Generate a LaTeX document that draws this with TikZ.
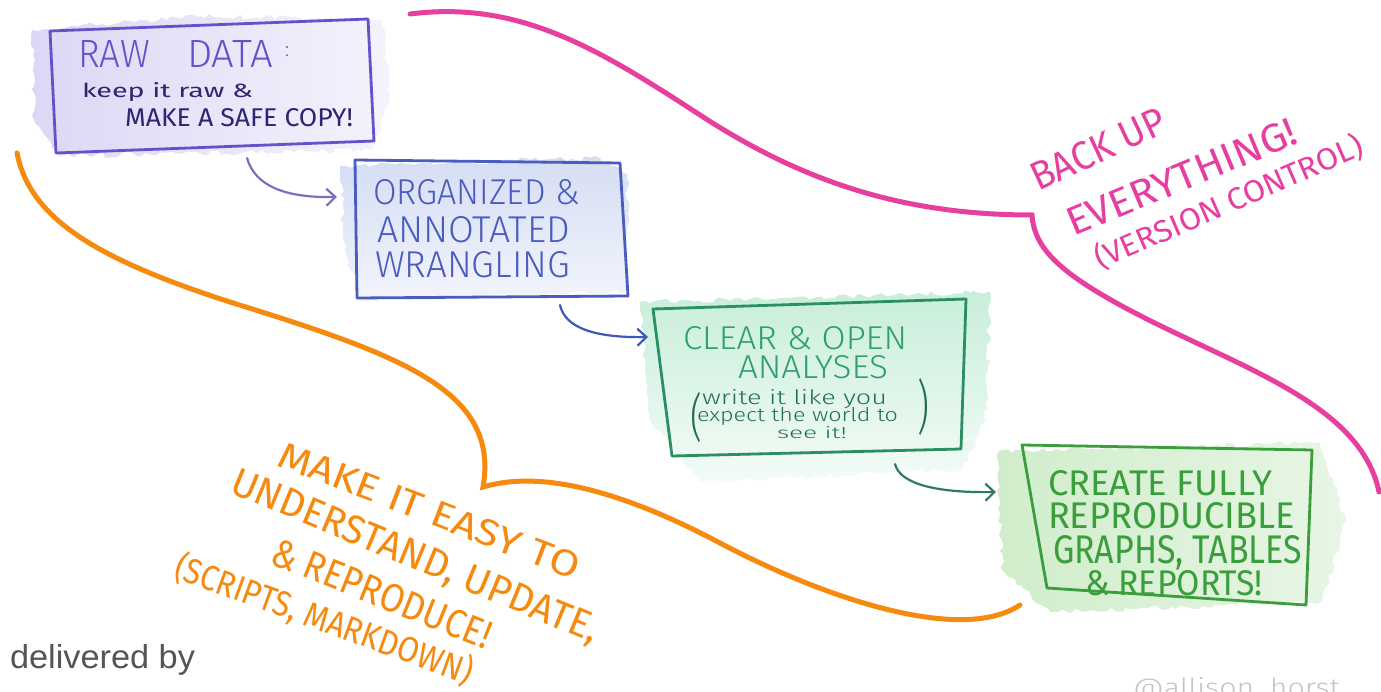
\documentclass[tikz,border=0pt]{standalone}
\usepackage{fontspec}
\usepackage{graphicx}
\usetikzlibrary{arrows.meta,decorations.pathmorphing}
\setmainfont{Liberation Sans}
\newfontfamily\hand{Fira Sans Light}
\newfontfamily\handr{Fira Sans}
\newcommand{\fitt}[3]{\resizebox{#1pt}{#2pt}{#3}}
\definecolor{rawc}{HTML}{6254C8}
\definecolor{navyc}{HTML}{2D2670}
\definecolor{orgc}{HTML}{4A5DBF}
\definecolor{arrA}{HTML}{7C6FC2}
\definecolor{arrB}{HTML}{3F57B8}
\definecolor{clrc}{HTML}{2FA06C}
\definecolor{arrC}{HTML}{2F7A66}
\definecolor{crec}{HTML}{3A9E3C}
\definecolor{pinkc}{HTML}{E63FA0}
\definecolor{orangec}{HTML}{F68A0F}
\definecolor{grayc}{HTML}{555555}
\definecolor{sigc}{HTML}{C4C4C4}
\definecolor{washA}{HTML}{DCD7F5}
\definecolor{washB}{HTML}{D5DDF4}
\definecolor{washC}{HTML}{C8EEDA}
\definecolor{washD}{HTML}{D0EDCB}
\tikzset{
  txt/.style={inner sep=0pt, outer sep=0pt, anchor=base west},
  boxline/.style={line width=2.8pt, line join=round},
  wash/.style={decorate, decoration={random steps, segment length=5pt, amplitude=2.5pt}},
  flow/.style={line width=2.2pt, line cap=round, -{Straight Barb[length=9pt,width=17pt,line width=2.2pt]}},
  brace/.style={line width=5pt, line cap=round, line join=miter}
}
\begin{document}
\begin{tikzpicture}[x=1pt,y=-1pt]
\useasboundingbox (0,0) rectangle (1381,692);
\clip (0,0) rectangle (1381,692);
\fill[white] (0,0) rectangle (1381,692);

% washes
\shade[wash, left color=washA, right color=white!70!washA] (32,30) -- (200,16) -- (382,20) -- (390,100) -- (372,150) -- (60,156) -- (34,120) -- cycle;
\shade[wash, top color=washB, bottom color=white!70!washB] (340,166) -- (600,158) -- (628,175) -- (626,292) -- (360,300) -- (345,250) -- cycle;
\shade[wash, top color=washC, bottom color=white!80!washC] (640,302) -- (990,292) -- (986,420) -- (962,470) -- (700,482) -- (650,420) -- cycle;
\shade[wash, left color=washD, right color=white!50!washD] (998,452) -- (1320,442) -- (1346,520) -- (1322,602) -- (1050,612) -- (1002,570) -- cycle;

% boxes
\draw[boxline, rawc] (50,31) -- (368,19) -- (374,141) -- (56,153) -- cycle;
\draw[boxline, orgc] (355,160) -- (620,163) -- (628,296) -- (357,298) -- cycle;
\draw[boxline, clrc!90!black] (653,309) -- (966,299) -- (961,449) -- (672,456) -- cycle;
\draw[boxline, crec] (1022,445) -- (1312,450) -- (1306,605) -- (1047,588) -- cycle;

% box texts
\node[txt, text=rawc] (rawA) at (78,68) {\hand\fitt{72}{27}{RAW}};
\node[txt, text=rawc] (rawB) at (187,68) {\hand\fitt{86}{27}{DATA}};
\node[txt, text=rawc] (rawC) at (285,57) {\hand\fitt{4}{10}{:}};
\node[txt, text=navyc] (rawD) at (82,98) {\handr\fitt{171}{15}{keep it raw \&}};
\node[txt, text=navyc] (rawE) at (125,127) {\handr\fitt{228}{18}{MAKE A SAFE COPY!}};

\node[txt, text=orgc] (orgA) at (373,205) {\hand\fitt{207}{25}{ORGANIZED \&}};
\node[txt, text=orgc] (orgB) at (377,243) {\hand\fitt{193}{26}{ANNOTATED}};
\node[txt, text=orgc] (orgC) at (375,278) {\hand\fitt{195}{26}{WRANGLING}};

\node[txt, text=clrc] (clrA) at (683,350) {\hand\fitt{224}{23}{CLEAR \& OPEN}};
\node[txt, text=clrc] (clrB) at (738,378) {\hand\fitt{150}{23}{ANALYSES}};
\node[txt, text=clrc!70!black] (clrC) at (702,404) {\hand\fitt{185}{15}{write it like you}};
\node[txt, text=clrc!70!black] (clrD) at (697,421) {\hand\fitt{201}{14}{expect the world to}};
\node[txt, text=clrc!70!black] (clrE) at (777,438) {\hand\fitt{70}{12}{see it!}};
\node[inner sep=0pt, anchor=north west, text=clrc!70!black] (clrL) at (690,392) {\hand\resizebox*{12pt}{50pt}{(}};
\node[inner sep=0pt, anchor=north west, text=clrc!70!black] (clrR) at (917,378) {\hand\resizebox*{12pt}{57pt}{)}};

\node[txt, text=crec] (creA) at (1048,495) {\handr\fitt{224}{25}{CREATE FULLY}};
\node[txt, text=crec] (creB) at (1048,528) {\handr\fitt{247}{26}{REPRODUCIBLE}};
\node[txt, text=crec] (creC) at (1053,563) {\handr\fitt{249}{28}{GRAPHS, TABLES}};
\node[txt, text=crec] (creD) at (1085,595) {\handr\fitt{178}{25}{\& REPORTS!}};

% flow arrows
\coordinate (a1s) at (247,158); \coordinate (a1e) at (337,197);
\coordinate (a2s) at (560,305); \coordinate (a2e) at (648,337);
\coordinate (a3s) at (895,464); \coordinate (a3e) at (996,492);
\draw[flow, arrA] (a1s) .. controls (255,186) and (285,198) .. (a1e);
\draw[flow, arrB] (a2s) .. controls (565,328) and (595,338) .. (a2e);
\draw[flow, arrC] (a3s) .. controls (900,485) and (940,493) .. (a3e);

% pink brace
\coordinate (pS) at (410,14);
\coordinate (pM) at (700,115);
\coordinate (pC) at (1032,215);
\coordinate (pN) at (1120,305);
\coordinate (pE) at (1379,492);
\draw[brace, pinkc] (pS) .. controls (520,0) and (600,50) .. (pM) .. controls (800,180) and (900,215) .. (pC)
  .. controls (1034,248) and (1060,272) .. (pN) .. controls (1230,365) and (1360,400) .. (pE);

% orange brace
\coordinate (oS) at (17,153);
\coordinate (oM) at (230,302);
\coordinate (oC) at (483,487);
\coordinate (oN) at (720,543);
\coordinate (oE) at (1020,605);
\draw[brace, orangec] (oS) .. controls (30,220) and (100,260) .. (oM) .. controls (400,355) and (500,390) .. (oC)
  .. controls (540,470) and (620,490) .. (oN) .. controls (820,596) and (960,645) .. (oE);

% pink text
\node[txt, text=pinkc, rotate=25] (pkA) at (1038,192) {\handr\fitt{145}{28}{BACK UP}};
\node[txt, text=pinkc, rotate=22.5] (pkB) at (1073,237) {\handr\fitt{246}{28}{EVERYTHING!}};
\node[txt, text=pinkc, rotate=23.5] (pkC) at (1100,270) {\handr\fitt{290}{26}{(VERSION CONTROL)}};

% orange text
\node[txt, text=orangec, rotate=-21] (orA) at (275,465) {\handr\fitt{320}{26}{MAKE IT EASY TO}};
\node[txt, text=orangec, rotate=-22.5] (orB) at (228,492) {\handr\fitt{395}{28}{UNDERSTAND, UPDATE,}};
\node[txt, text=orangec, rotate=-21.8] (orC) at (268,563) {\handr\fitt{234}{28}{\& REPRODUCE!}};
\node[txt, text=orangec, rotate=-20] (orD) at (172,577) {\handr\fitt{315}{30}{(SCRIPTS, MARKDOWN)}};

% footer
\node[txt, text=grayc] (deliv) at (10,668) {\fitt{185}{24}{delivered by}};
\node[txt, text=sigc] (sig) at (1133,696) {\hand\fitt{207}{19}{@allison\_horst}};
\end{tikzpicture}
\end{document}
